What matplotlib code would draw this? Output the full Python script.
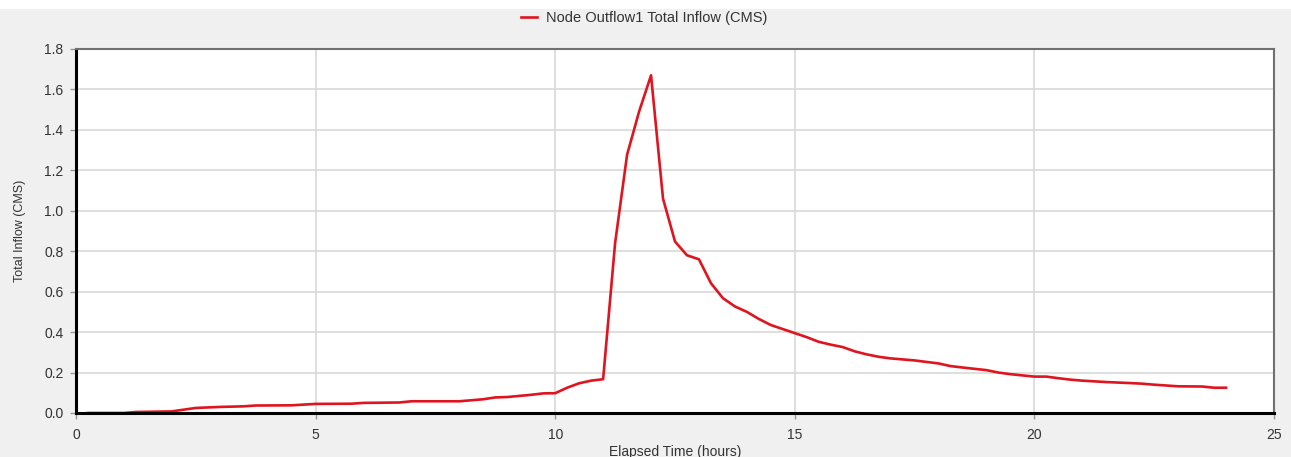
import matplotlib
matplotlib.use("Agg")
import matplotlib.pyplot as plt
from matplotlib.patches import Rectangle

# elapsed time (hours) and total inflow (CMS)
hours = [0.25, 1.0, 1.25, 2.0, 2.5, 3.0, 3.5, 3.75, 4.5, 5.0, 5.75, 6.0, 6.75, 7.0,
         8.0, 8.5, 8.75, 9.0, 9.5, 9.75, 10.0, 10.25, 10.5, 10.75, 11.0, 11.25,
         11.5, 11.75, 12.0, 12.25, 12.5, 12.75, 13.0, 13.25, 13.5, 13.75, 14.0,
         14.25, 14.5, 14.75, 15.0, 15.25, 15.5, 15.75, 16.0, 16.25, 16.5, 16.75,
         17.0, 17.5, 18.0, 18.25, 18.5, 19.0, 19.25, 19.5, 20.0, 20.25, 20.5,
         20.75, 21.0, 21.5, 22.0, 22.25, 22.5, 23.0, 23.5, 23.75, 24.0]
inflow = [0.0, 0.0, 0.005, 0.008, 0.025, 0.03, 0.033, 0.037, 0.038, 0.045, 0.046,
          0.05, 0.052, 0.058, 0.058, 0.068, 0.077, 0.079, 0.09, 0.097, 0.098,
          0.125, 0.147, 0.16, 0.167, 0.84, 1.277, 1.49, 1.67, 1.06, 0.848, 0.78,
          0.76, 0.642, 0.568, 0.527, 0.50, 0.465, 0.435, 0.415, 0.395, 0.375,
          0.352, 0.338, 0.326, 0.305, 0.29, 0.278, 0.27, 0.26, 0.245, 0.232,
          0.225, 0.212, 0.2, 0.192, 0.18, 0.18, 0.172, 0.165, 0.16, 0.153,
          0.148, 0.145, 0.14, 0.132, 0.131, 0.125, 0.125]

x_ticks = [0, 5, 10, 15, 20, 25]
y_ticks = [0.0, 0.2, 0.4, 0.6, 0.8, 1.0, 1.2, 1.4, 1.6, 1.8]

plt.rcParams["font.family"] = ["Liberation Sans", "DejaVu Sans"]

W, H = 1291, 457
fig = plt.figure(figsize=(W / 100, H / 100), dpi=100, facecolor="#f0f0f0")
fig.patches.append(Rectangle((0, 1 - 9 / H), 1, 9 / H, transform=fig.transFigure,
                             facecolor="white", edgecolor="none", zorder=-1))

ax = fig.add_axes([76 / W, (H - 413) / H, (1274 - 76) / W, (413 - 49) / H])
ax.set_facecolor("white")

ax.plot(hours, inflow, color="#e0141e", lw=1.9, label="Node Outflow1 Total Inflow (CMS)")

ax.set_xlim(0, 25)
ax.set_ylim(0, 1.8)
ax.set_xticks(x_ticks)
ax.set_yticks(y_ticks)
ax.set_yticklabels([f"{v:.1f}" for v in y_ticks])
ax.grid(True, color="#d9d9d9", lw=1.2)
ax.set_axisbelow(True)

ax.tick_params(axis="both", direction="out", length=4, width=1, color="#999999",
               labelsize=10, labelcolor="#333333", pad=5)
ax.tick_params(axis="x", pad=7)

for side in ("left", "bottom"):
    ax.spines[side].set_color("black")
    ax.spines[side].set_linewidth(2.2)
for side in ("top", "right"):
    ax.spines[side].set_color("#707070")
    ax.spines[side].set_linewidth(1.5)

ax.set_xlabel("Elapsed Time (hours)", fontsize=10, color="#333333", labelpad=2)
ax.set_ylabel("Total Inflow (CMS)", fontsize=9, color="#333333", labelpad=13)

fig.legend(loc="center", bbox_to_anchor=(644 / W, 1 - 18 / H), frameon=False,
           fontsize=10.5, handlelength=1.1, handletextpad=0.6, labelcolor="#333333")

fig.savefig("out.png", dpi=100, facecolor=fig.get_facecolor())
